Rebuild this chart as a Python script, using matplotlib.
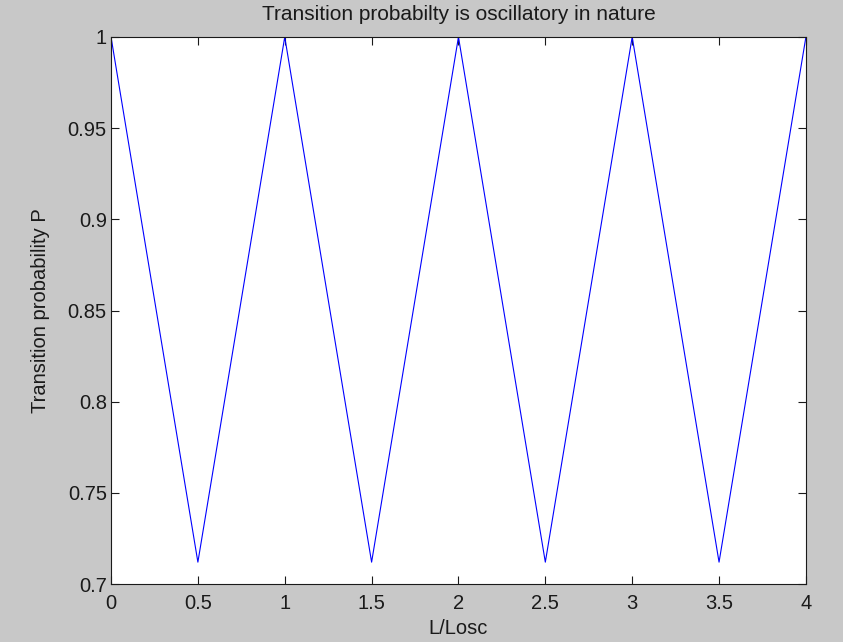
import matplotlib
matplotlib.use("Agg")
import matplotlib.pyplot as plt

matplotlib.rcParams.update({
    "font.family": ["Liberation Sans", "DejaVu Sans"],
    "font.size": 14.5,
})

# L/Losc sample points and transition probability
l_over_losc = [0, 0.5, 1, 1.5, 2, 2.5, 3, 3.5, 4]
prob = [1, 0.712, 1, 0.712, 1, 0.712, 1, 0.712, 1]

xticks = [0, 0.5, 1, 1.5, 2, 2.5, 3, 3.5, 4]
xtick_labels = ["0", "0.5", "1", "1.5", "2", "2.5", "3", "3.5", "4"]
yticks = [0.7, 0.75, 0.8, 0.85, 0.9, 0.95, 1]
ytick_labels = ["0.7", "0.75", "0.8", "0.85", "0.9", "0.95", "1"]

fig = plt.figure(figsize=(8.43, 6.42), dpi=100, facecolor="#c8c8c8")
ax = fig.add_axes([0.1317, 0.0903, 0.8243, 0.8521])

ax.plot(l_over_losc, prob, color="#0000ff", linewidth=0.8)

ax.set_xlim(0, 4)
ax.set_ylim(0.7, 1)
ax.set_xticks(xticks)
ax.set_xticklabels(xtick_labels)
ax.set_yticks(yticks)
ax.set_yticklabels(ytick_labels)
ax.tick_params(direction="in", top=True, right=True, length=6, width=0.8,
               labelsize=14.5, colors="#1a1a1a")
ax.tick_params(axis="x", pad=7.5)
ax.tick_params(axis="y", pad=3)
for sp in ax.spines.values():
    sp.set_linewidth(0.8)
    sp.set_color("#1a1a1a")

ax.set_xlabel("L/Losc", fontsize=14.5, labelpad=4, color="#1a1a1a")
ax.set_ylabel("Transition probability P", fontsize=14.5, labelpad=13, color="#1a1a1a")
ax.set_title("Transition probabilty is oscillatory in nature", fontsize=15,
             pad=12, color="#1a1a1a")

fig.savefig("out.png", dpi=100, facecolor=fig.get_facecolor())
